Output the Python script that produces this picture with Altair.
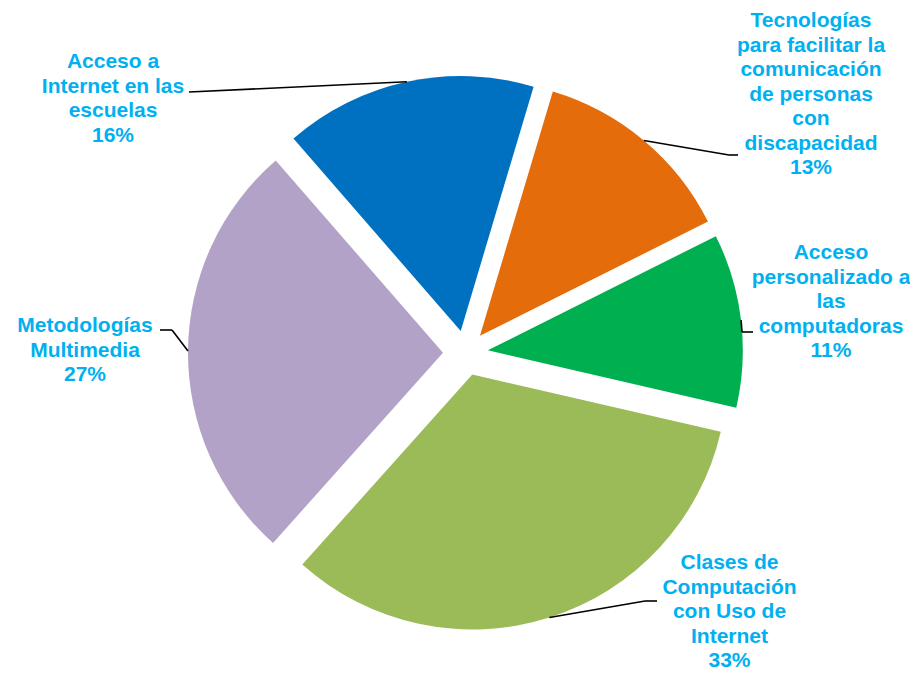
import math
import altair as alt
import pandas as pd

# ---- data ----
categories = [
    "Acceso a Internet en las escuelas",
    "Tecnologías para facilitar la comunicación de personas con discapacidad",
    "Acceso personalizado a las computadoras",
    "Clases de Computación con Uso de Internet",
    "Metodologías Multimedia",
]
label_lines = [
    "Acceso a\nInternet en las\nescuelas",
    "Tecnologías\npara facilitar la\ncomunicación\nde personas\ncon\ndiscapacidad",
    "Acceso\npersonalizado a\nlas\ncomputadoras",
    "Clases de\nComputación\ncon Uso de\nInternet",
    "Metodologías\nMultimedia",
]
percent = [16, 13, 11, 33, 27]
colors = ["#0070C0", "#E46C0A", "#00B050", "#9BBB59", "#B2A2C7"]

# ---- annotation layout (chart pixel coordinates) ----
label_x = [105, 803, 823, 721.5, 77]
label_y = [60, 19, 251, 561, 324]
elbow_x = [181, 721, 734, 637, 164]
elbow_y = [84, 147, 324, 593, 322]
end_x = [181, 730, 745, 649, 152]

# pie geometry
CX, CY = 457.5, 345.0
R = 255
EXPLODE = 22.5
START = math.radians(-41)

df = pd.DataFrame({
    "cat": categories,
    "pct": percent,
    "order": list(range(len(categories))),
    "text": [f"{l}\n{p}%" for l, p in zip(label_lines, percent)],
    "lx": label_x,
    "ly": label_y,
    "bx": elbow_x,
    "by": elbow_y,
    "nx": end_x,
})

base = (
    alt.Chart(df)
    .transform_window(cum="sum(pct)", sort=[alt.SortField("order")], frame=[None, 0])
    .transform_joinaggregate(total="sum(pct)")
    .transform_calculate(t0=f"{START} + 2*PI*(datum.cum - datum.pct)/datum.total")
    .transform_calculate(t1=f"{START} + 2*PI*datum.cum/datum.total")
    .transform_calculate(mid="(datum.t0 + datum.t1)/2")
    .transform_calculate(cx=f"{CX} + {EXPLODE}*sin(datum.mid)")
    .transform_calculate(cy=f"{CY} - {EXPLODE}*cos(datum.mid)")
    .transform_calculate(ex=f"datum.cx + {R}*sin(datum.mid)")
    .transform_calculate(ey=f"datum.cy - {R}*cos(datum.mid)")
)

arcs = base.mark_arc(radius=R).encode(
    theta=alt.Theta("t0:Q", scale=None),
    theta2="t1:Q",
    x=alt.X("cx:Q", scale=None, axis=None),
    y=alt.Y("cy:Q", scale=None, axis=None),
    color=alt.Color("cat:N", scale=alt.Scale(domain=categories, range=colors), legend=None),
)

lead1 = base.mark_rule(color="black", strokeWidth=1.6).encode(
    x=alt.X("ex:Q", scale=None, axis=None),
    y=alt.Y("ey:Q", scale=None, axis=None),
    x2="bx:Q",
    y2="by:Q",
)

lead2 = base.mark_rule(color="black", strokeWidth=1.6).encode(
    x=alt.X("bx:Q", scale=None, axis=None),
    y=alt.Y("by:Q", scale=None, axis=None),
    x2="nx:Q",
)

labels = base.mark_text(
    align="center",
    baseline="alphabetic",
    lineBreak="\n",
    font="Liberation Sans",
    fontWeight="bold",
    fontSize=21,
    lineHeight=24.5,
    color="#00B0F0",
).encode(
    x=alt.X("lx:Q", scale=None, axis=None),
    y=alt.Y("ly:Q", scale=None, axis=None),
    text="text:N",
)

chart = (
    alt.layer(arcs, lead1, lead2, labels)
    .properties(width=902, height=664, padding=0, autosize="none", background="white")
    .configure_view(stroke=None)
)

chart.save("out.html", embed_options={"renderer": "svg", "actions": False})
